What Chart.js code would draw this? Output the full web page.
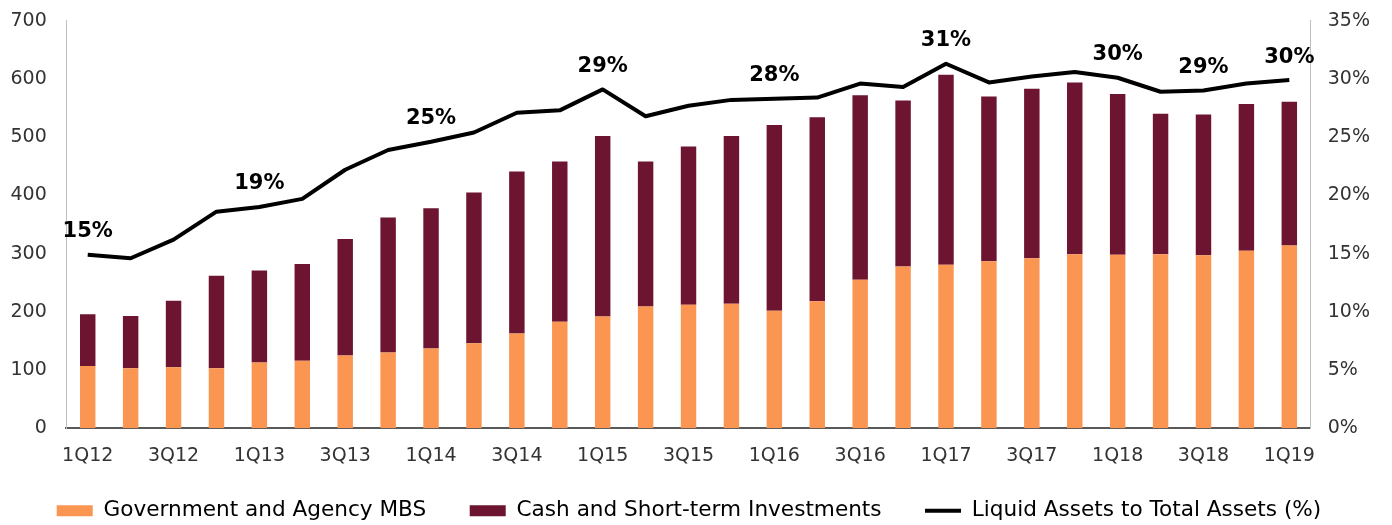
<!DOCTYPE html>
<html>
<head>
<meta charset="utf-8">
<script src="https://cdn.jsdelivr.net/npm/chart.js@4/dist/chart.umd.min.js"></script>
<style>
  html, body { margin: 0; padding: 0; background: #fff; }
  canvas { display: block; }
</style>
</head>
<body>
<canvas id="liquidChart" width="1392" height="525"></canvas>
<script>
// Quarter categories
const quarters = [
  "1Q12", "2Q12", "3Q12", "4Q12",
  "1Q13", "2Q13", "3Q13", "4Q13",
  "1Q14", "2Q14", "3Q14", "4Q14",
  "1Q15", "2Q15", "3Q15", "4Q15",
  "1Q16", "2Q16", "3Q16", "4Q16",
  "1Q17", "2Q17", "3Q17", "4Q17",
  "1Q18", "2Q18", "3Q18", "4Q18",
  "1Q19",
];

// Government and Agency MBS (bottom of stack)
const mbs = [
  107, 103, 105, 103, 113, 116, 125, 130, 137, 146, 163, 183, 192, 209, 212,
  214, 202, 218, 255, 278, 281, 287, 292, 299, 298, 299, 297, 305, 314,
];

// Cash and Short-term Investments (top of stack)
const cash = [
  89, 90, 114, 159, 158, 166, 200, 232, 241, 259, 278, 275, 310, 249, 272,
  288, 319, 316, 317, 285, 326, 283, 291, 295, 276, 241, 242, 252, 247,
];

// Liquid Assets to Total Assets (%)
const liquidRatio = [
  14.9, 14.6, 16.2, 18.6, 19.0, 19.7, 22.2, 23.9, 24.6, 25.4, 27.1, 27.3, 29.1,
  26.8, 27.7, 28.2, 28.3, 28.4, 29.6, 29.3, 31.3, 29.7, 30.2, 30.6, 30.1, 28.9,
  29.0, 29.6, 29.9,
];

// which points of the ratio line carry a value label
const labelledPoints = [0, 4, 8, 12, 16, 20, 24, 26, 28];

const FONT = "'DejaVu Sans', Verdana, sans-serif";

// draw the % labels above selected line points
const ratioLabels = {
  id: "ratioLabels",
  afterDatasetsDraw(chart) {
    const meta = chart.getDatasetMeta(2);
    const ctx = chart.ctx;
    ctx.save();
    ctx.font = "bold 21px " + FONT;
    ctx.fillStyle = "#000";
    ctx.textAlign = "center";
    ctx.textBaseline = "middle";
    labelledPoints.forEach((i) => {
      const pt = meta.data[i];
      ctx.fillText(Math.round(liquidRatio[i]) + "%", pt.x, pt.y - 23);
    });
    ctx.restore();
  },
};

// tick padding also pushes the plot down; keep only half a label of room
function trimPadding(scale) {
  scale.paddingTop = 11;
  scale.paddingBottom = 11;
}

const ctx = document.getElementById("liquidChart").getContext("2d");
new Chart(ctx, {
  type: "bar",
  data: {
    labels: quarters,
    datasets: [
      {
        label: "Government and Agency MBS",
        data: mbs,
        backgroundColor: "#FA9652",
        stack: "assets",
        barPercentage: 0.36,
        categoryPercentage: 1,
        order: 1,
      },
      {
        label: "Cash and Short-term Investments",
        data: cash,
        backgroundColor: "#6C1430",
        stack: "assets",
        barPercentage: 0.36,
        categoryPercentage: 1,
        order: 1,
      },
      {
        type: "line",
        label: "Liquid Assets to Total Assets (%)",
        data: liquidRatio,
        yAxisID: "y1",
        borderColor: "#000",
        backgroundColor: "#000",
        borderWidth: 4,
        borderJoinStyle: "round",
        pointRadius: 0,
        tension: 0,
        order: 0,
      },
    ],
  },
  options: {
    responsive: false,
    animation: false,
    devicePixelRatio: 1,
    layout: { padding: { top: 20.7, left: -9, right: 5, bottom: -6.5 } },
    plugins: {
      tooltip: { enabled: false },
      legend: {
        position: "bottom",
        sort: (a, b) => a.datasetIndex - b.datasetIndex,
        labels: {
          usePointStyle: true,
          pointStyleWidth: 36,
          boxHeight: 11,
          padding: 16,
          color: "#333",
          font: { family: FONT, size: 21.6 },
          generateLabels(chart) {
            return chart.data.datasets.map((ds, i) => {
              const isLine = ds.type === "line";
              return {
                text: isLine ? ds.label : ds.label + "    ",
                datasetIndex: i,
                fillStyle: ds.backgroundColor,
                strokeStyle: isLine ? "#000" : ds.backgroundColor,
                lineWidth: isLine ? 4 : 0,
                pointStyle: isLine ? "line" : "rect",
                hidden: false,
              };
            });
          },
        },
      },
    },
    scales: {
      x: {
        stacked: true,
        grid: { display: false, drawTicks: false },
        border: { display: true, color: "#595959", width: 2 },
        ticks: {
          autoSkip: false,
          maxRotation: 0,
          padding: 16.4,
          color: "#333",
          font: { family: FONT, size: 19 },
          callback: function (value, index) {
            return index % 2 === 0 ? this.getLabelForValue(value) : "";
          },
        },
      },
      y: {
        stacked: true,
        min: 0,
        max: 700,
        afterFit: trimPadding,
        grid: { display: false, drawTicks: false },
        border: { display: true, color: "#bfbfbf", width: 1 },
        ticks: {
          stepSize: 100,
          padding: 19.5,
          color: "#333",
          font: { family: FONT, size: 19 },
        },
      },
      y1: {
        position: "right",
        min: 0,
        max: 35,
        afterFit: trimPadding,
        grid: { display: false, drawTicks: false },
        border: { display: true, color: "#bfbfbf", width: 1 },
        ticks: {
          stepSize: 5,
          padding: 17,
          color: "#333",
          font: { family: FONT, size: 19 },
          callback: (v) => v + "%",
        },
      },
    },
  },
  plugins: [ratioLabels],
});
</script>
</body>
</html>
